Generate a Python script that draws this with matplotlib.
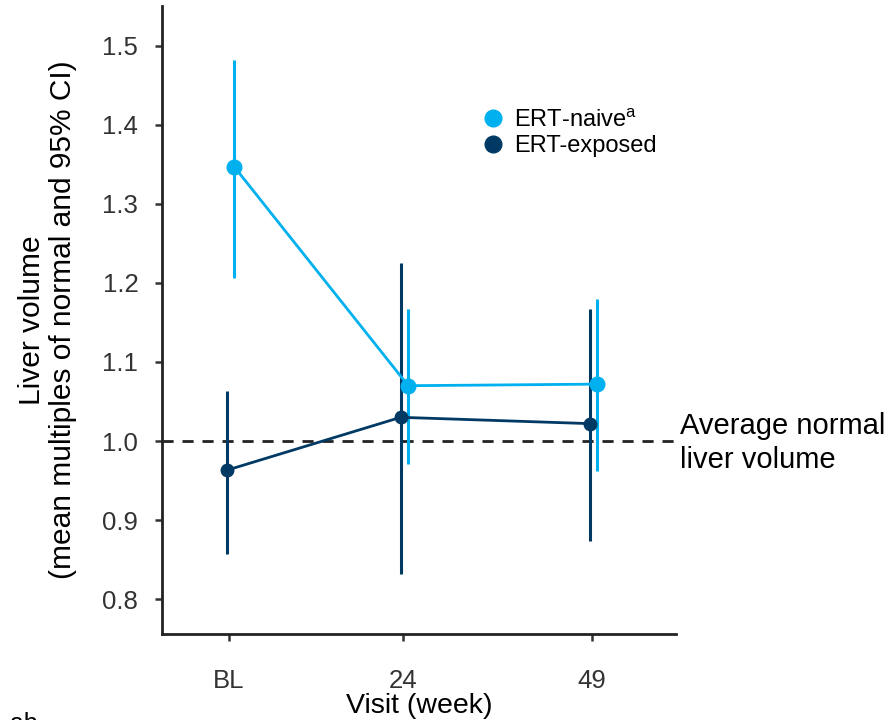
import numpy as np
import matplotlib
matplotlib.use("Agg")
import matplotlib.pyplot as plt
from matplotlib.lines import Line2D

plt.rcParams["font.family"] = ["Liberation Sans", "DejaVu Sans"]
plt.rcParams["mathtext.fontset"] = "custom"
plt.rcParams["mathtext.rm"] = "Liberation Sans"

# данные
visits = ["BL", "24", "49"]
weeks = [1, 24, 49]

naive_mean = [1.347, 1.070, 1.072]
naive_lo = [1.206, 0.971, 0.962]
naive_hi = [1.482, 1.167, 1.180]

exposed_mean = [0.963, 1.030, 1.022]
exposed_lo = [0.857, 0.832, 0.873]
exposed_hi = [1.063, 1.225, 1.167]

normal_level = 1.0

c_naive = "#00B0EF"
c_exposed = "#003A64"

fig = plt.figure(figsize=(8.91, 7.2), dpi=100)
ax = fig.add_axes([0.1818, 0.1194, 0.5769, 0.8723])

w = np.array(weeks, dtype=float)
x_naive = w + 0.7
x_exposed = w - 0.3


def draw_group(x, mean, lo, hi, color, ms):
    mean = np.array(mean)
    yerr = [mean - np.array(lo), np.array(hi) - mean]
    ax.errorbar(x, mean, yerr=yerr, fmt="none", ecolor=color,
                elinewidth=2.2, capsize=0, zorder=3)
    ax.plot(x, mean, color=color, lw=2, marker="o", ms=ms, zorder=4)


draw_group(x_exposed, exposed_mean, exposed_lo, exposed_hi, c_exposed, 9)
draw_group(x_naive, naive_mean, naive_lo, naive_hi, c_naive, 10.5)

ax.axhline(normal_level, color="#222222", lw=2, ls=(0, (4, 3.2)), zorder=2)

ax.set_xlim(-7.86, 60.1)
ax.set_ylim(0.7557, 1.5506)
ax.set_xticks(weeks)
ax.set_xticklabels(visits)
ax.set_yticks(np.arange(0.8, 1.51, 0.1))
ax.set_yticklabels([f"{v:.1f}" for v in np.arange(0.8, 1.51, 0.1)])

ax.spines["top"].set_visible(False)
ax.spines["right"].set_visible(False)
for s in ["left", "bottom"]:
    ax.spines[s].set_linewidth(2)
    ax.spines[s].set_color("#222222")
ax.tick_params(axis="both", direction="out", length=5, width=1.8,
               color="#333333", labelsize=18.5, labelcolor="#333333")
ax.tick_params(axis="x", pad=20)
ax.tick_params(axis="y", pad=12)

ax.set_xlabel("Visit (week)", fontsize=20.5, labelpad=0)
ax.set_ylabel("Liver volume\n(mean multiples of normal and 95% CI)",
              fontsize=21.5, labelpad=18, linespacing=1.15)

ax.text(680 / 891, 1 - 443 / 720, "Average normal\nliver volume",
        transform=fig.transFigure, fontsize=21, ha="left", va="center",
        linespacing=1.3)

handles = [
    Line2D([], [], ls="none", marker="o", ms=12, color=c_naive,
           label="ERT-naive$^{\\mathrm{a}}$"),
    Line2D([], [], ls="none", marker="o", ms=12, color=c_exposed,
           label="ERT-exposed"),
]
ax.legend(handles=handles, loc="upper left",
          bbox_to_anchor=(472 / 891, 1 - 97 / 720),
          bbox_transform=fig.transFigure, frameon=False, fontsize=17,
          handletextpad=0.5, handlelength=0.8, labelspacing=0.15,
          borderpad=0)

# обрезанная подпись внизу
fig.text(10 / 891, 1 - 712 / 720, "ab", fontsize=18, va="top", ha="left")

fig.savefig("out.png", dpi=100)
